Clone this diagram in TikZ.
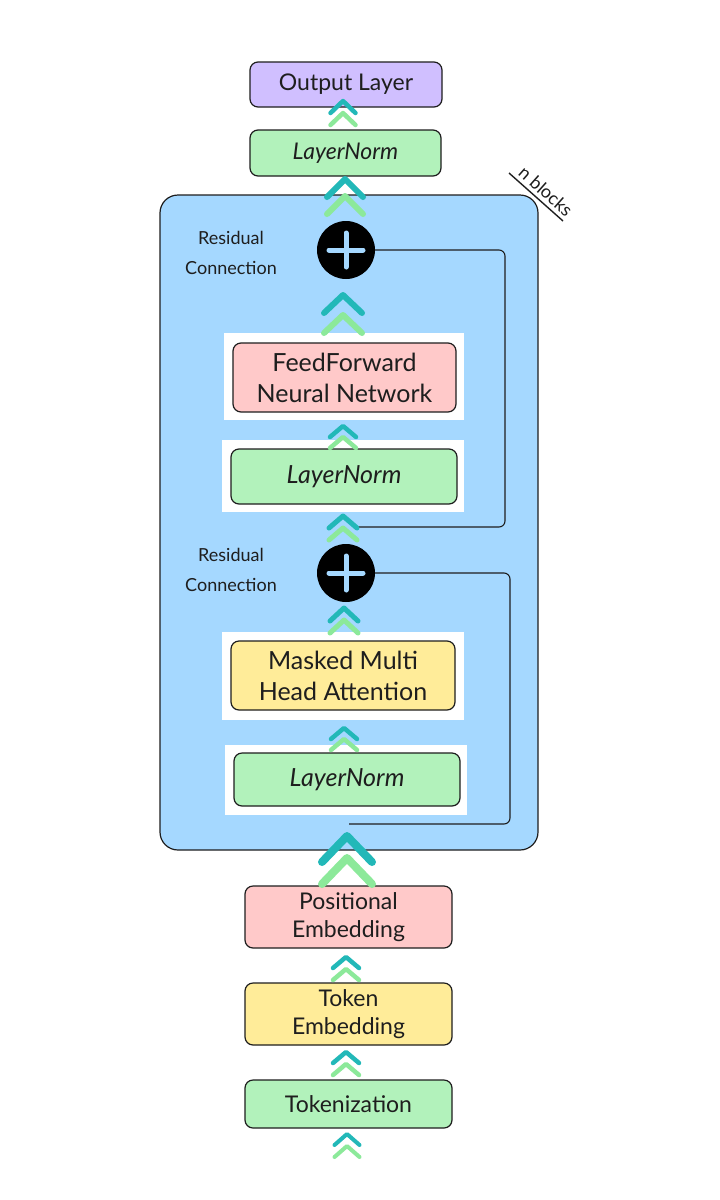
\documentclass[tikz,border=0pt]{standalone}
\usepackage{fontspec}
\setmainfont{Lato}
\usetikzlibrary{calc}
\definecolor{ink}{HTML}{1E1E1E}
\definecolor{cpurple}{HTML}{D0BFFF}
\definecolor{cgreen}{HTML}{B2F2BB}
\definecolor{cblue}{HTML}{A5D8FF}
\definecolor{cpink}{HTML}{FFC9C9}
\definecolor{cyellow}{HTML}{FFEC99}
\definecolor{cteal}{HTML}{22B8B8}
\definecolor{clime}{HTML}{8CE99A}
\newcommand\boxfont{\fontsize{23}{28}\selectfont}
\newcommand\bigboxfont{\fontsize{25}{31}\selectfont}
\newcommand\smallfont{\fontsize{18}{30}\selectfont}
% apex x, apex y, width, height, line width, gap
\newcommand\chevs[6]{%
  \draw[cteal,line width=#5pt,line cap=round,line join=round] (#1-#3/2,#2+#4) -- (#1,#2) -- (#1+#3/2,#2+#4);
  \draw[clime,line width=#5pt,line cap=round,line join=round] (#1-#3/2,#2+#4+#6) -- (#1,#2+#6) -- (#1+#3/2,#2+#4+#6);
}
\begin{document}
\begin{tikzpicture}[x=1pt,y=-1pt,
  box/.style={draw=ink, line width=1.2pt, rounded corners=8pt, align=center, font=\boxfont, text=ink, inner sep=0pt},
  bigbox/.style={box, font=\bigboxfont},
  whitebg/.style={fill=white, draw=none},
  lbl/.style={font=\smallfont, text=ink, align=center},
  resid/.style={draw=ink, line width=1.1pt, rounded corners=6pt}]
\useasboundingbox (0,0) rectangle (720,1200);
\fill[white] (0,0) rectangle (720,1200);

% main block
\node[draw=ink, line width=1.2pt, fill=cblue, rounded corners=18pt, minimum width=378pt, minimum height=655pt] (blk) at (349,522.5) {};
\coordinate (nbA) at (509,173);
\coordinate (nbB) at (563,221);
\draw[ink, line width=1.4pt] (nbA) -- (nbB);
\node[font=\fontsize{18}{20}\selectfont, text=ink, rotate=-41.6, anchor=south, inner sep=4pt] (nb) at ($(nbA)!0.55!(nbB)$) {n blocks};

% top boxes
\node[box, fill=cpurple, minimum width=192pt, minimum height=45pt] (out) at (346,84.5) {Output Layer};
\node[box, fill=cgreen, minimum width=191pt, minimum height=46pt] (ln0) at (345.5,153) {\itshape LayerNorm};

% residual labels
\node[lbl] (res1) at (231,253) {Residual\\Connection};
\node[lbl] (res2) at (231,570) {Residual\\Connection};

% white backgrounds
\fill[whitebg] (224,333) rectangle (464,420);
\fill[whitebg] (222,440) rectangle (464,512);
\fill[whitebg] (222,632) rectangle (464,720);
\fill[whitebg] (225,745) rectangle (467,815);

% inner boxes
\node[bigbox, fill=cpink, minimum width=223pt, minimum height=69pt] (ffn) at (344.5,377.5) {FeedForward\\Neural Network};
\node[bigbox, fill=cgreen, minimum width=226pt, minimum height=55pt] (ln1) at (344,476.5) {\itshape LayerNorm};
\node[bigbox, fill=cyellow, minimum width=224pt, minimum height=69pt] (mha) at (343,675.5) {Masked Multi\\Head Attention};
\node[bigbox, fill=cgreen, minimum width=226pt, minimum height=53pt] (ln2) at (347,779.5) {\itshape LayerNorm};

% plus circles
\node[circle, fill=black, minimum size=58pt, inner sep=0pt] (plus1) at (346,250) {};
\node[circle, fill=black, minimum size=58pt, inner sep=0pt] (plus2) at (346,573) {};
\foreach \p in {plus1,plus2}{
  \draw[cblue, line width=5pt, line cap=round] ([xshift=-17pt]\p.center) -- ([xshift=17pt]\p.center);
  \draw[cblue, line width=5pt, line cap=round] ([yshift=-17pt]\p.center) -- ([yshift=17pt]\p.center);
}

% residual connectors
\coordinate (r1s) at (355,527);
\coordinate (r2e) at (349,824);
\draw[resid] (r1s) -- (505,527) -- (505,250) -- (plus1.east);
\draw[resid] (plus2.east) -- (510,573) -- (510,824) -- (r2e);

% bottom boxes
\node[box, fill=cpink, minimum width=207pt, minimum height=62pt] (pe) at (348.5,917) {Positional\\Embedding};
\node[box, fill=cyellow, minimum width=207pt, minimum height=62pt] (te) at (348.5,1014) {Token\\Embedding};
\node[box, fill=cgreen, minimum width=207pt, minimum height=48pt] (tok) at (348.5,1104) {Tokenization};

% chevrons
\chevs{343}{101}{25}{12}{4.5}{12}
\chevs{345}{179}{36}{18}{6}{17}
\chevs{343}{295}{38}{18}{6}{20}
\chevs{343}{426}{26}{11}{4.5}{11}
\chevs{343}{516}{28}{12}{5}{12}
\chevs{344}{608}{28}{13}{5}{12}
\chevs{344}{728}{26}{11}{4.5}{11}
\chevs{347}{836}{50}{26}{8}{22}
\chevs{346}{957}{26}{11}{4.5}{12}
\chevs{346}{1052}{26}{11}{4.5}{12}
\chevs{347}{1134}{25}{11}{4}{12}
\end{tikzpicture}
\end{document}
